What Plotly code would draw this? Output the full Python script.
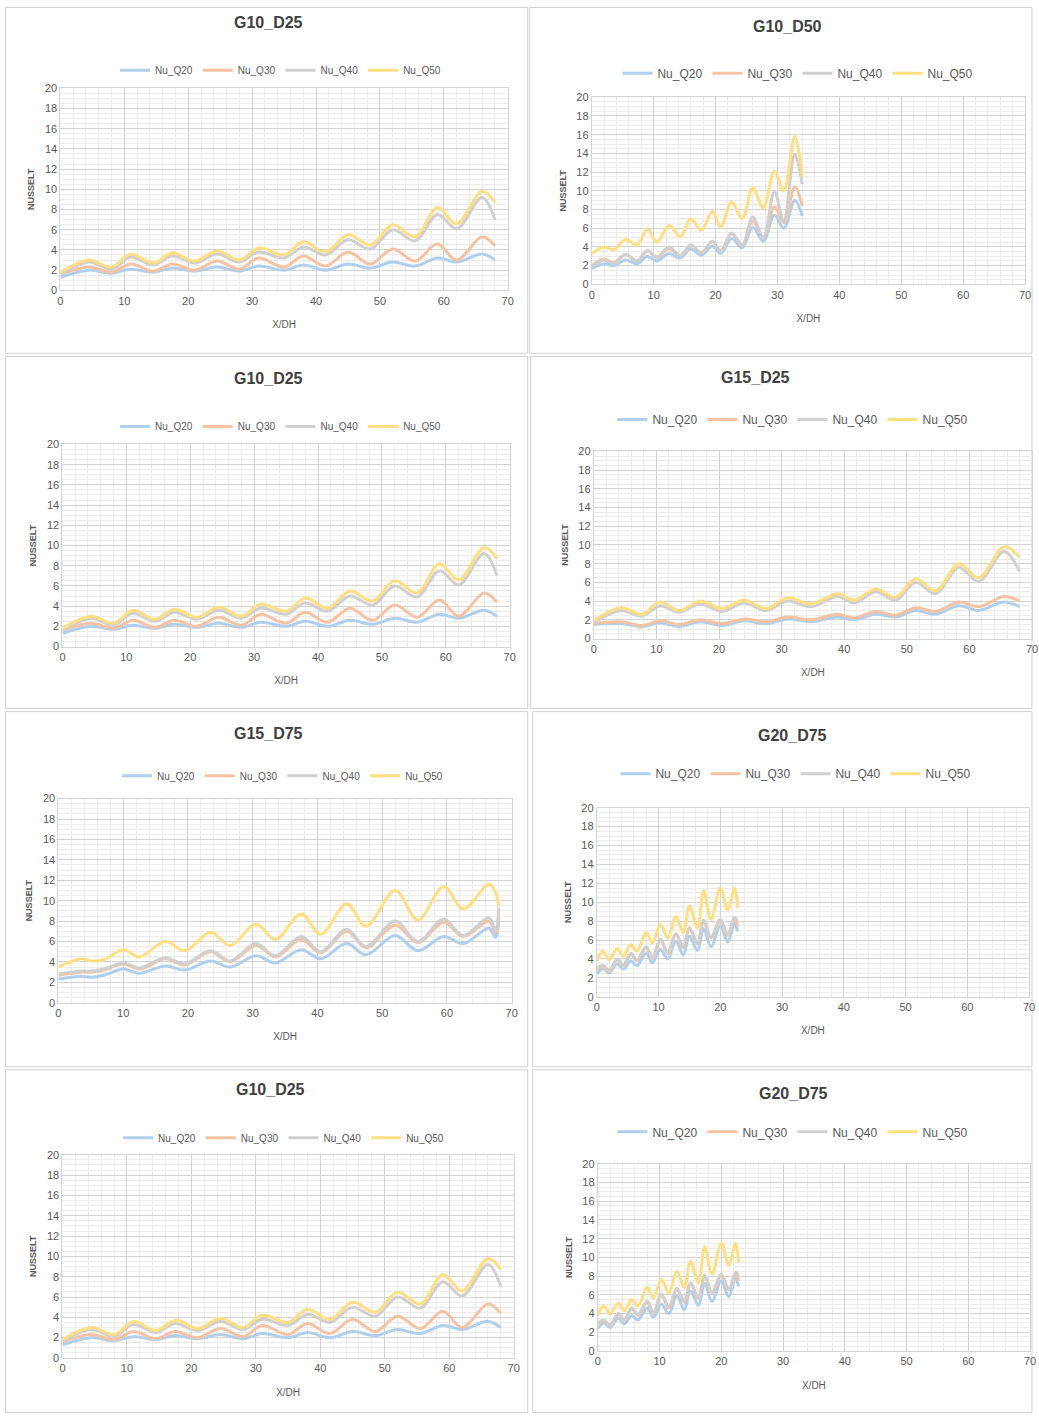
import plotly.graph_objects as go

# ---------------- data ----------------
SERIES = ["Nu_Q20", "Nu_Q30", "Nu_Q40", "Nu_Q50"]

G10_D25_X = [0, 4.5, 8, 11, 14.5, 17.5, 21, 24.5, 28, 31, 35, 38, 41.5, 45, 48.5, 52, 55.5, 59, 62, 66, 68]
G10_D25_Q20 = [1.3, 2.0, 1.7, 2.1, 1.8, 2.2, 1.9, 2.3, 1.9, 2.4, 2.0, 2.5, 2.0, 2.6, 2.2, 2.8, 2.4, 3.2, 2.8, 3.6, 3.0]
G10_D25_Q30 = [1.6, 2.3, 1.8, 2.6, 1.9, 2.6, 2.0, 2.9, 2.1, 3.2, 2.3, 3.4, 2.4, 3.8, 2.6, 4.1, 2.9, 4.6, 3.0, 5.3, 4.4]
G10_D25_Q40 = [1.6, 2.8, 2.1, 3.3, 2.5, 3.4, 2.7, 3.6, 2.8, 3.8, 3.2, 4.3, 3.5, 5.0, 4.1, 6.0, 4.9, 7.5, 6.1, 9.2, 7.0]
G10_D25_Q50 = [1.8, 3.0, 2.3, 3.6, 2.7, 3.7, 2.9, 3.9, 3.0, 4.2, 3.5, 4.8, 3.8, 5.5, 4.5, 6.5, 5.3, 8.2, 6.6, 9.8, 8.7]

G10_D50_X = [0, 2, 3.5, 5.5, 7.3, 9, 10.5, 12.5, 14.3, 16, 17.7, 19.5, 20.8, 22.6, 24.3, 26, 27.7, 29.5, 31, 32.8, 34]
G10_D50_Q20 = [1.7, 2.2, 2.0, 2.6, 2.2, 3.0, 2.5, 3.3, 2.8, 3.8, 3.1, 4.1, 3.3, 4.9, 3.9, 6.1, 4.6, 7.4, 6.0, 9.0, 7.3]
G10_D50_Q30 = [2.0, 2.7, 2.3, 3.2, 2.5, 3.6, 2.9, 3.8, 3.1, 4.2, 3.4, 4.6, 3.6, 5.4, 4.2, 6.8, 5.0, 8.3, 6.6, 10.4, 8.4]
G10_D50_Q40 = [1.9, 2.6, 2.2, 3.2, 2.5, 3.6, 2.9, 4.0, 3.0, 4.2, 3.3, 4.6, 3.5, 5.5, 4.2, 7.2, 5.0, 9.9, 6.8, 13.9, 10.7]
G10_D50_Q50 = [3.3, 4.0, 3.7, 4.8, 4.2, 5.9, 4.5, 6.3, 5.1, 7.0, 5.8, 7.8, 6.1, 8.8, 7.0, 10.3, 8.2, 12.1, 10.0, 15.8, 11.5]

G15_D25_X = [0, 4.3, 7.7, 10.6, 13.6, 17, 20.5, 24, 27.5, 31, 34.7, 38.9, 41.6, 45, 48.2, 51.4, 54.6, 58.3, 61.5, 65.5, 68]
G15_D25_Q20 = [1.5, 1.6, 1.3, 1.7, 1.3, 1.8, 1.4, 1.9, 1.6, 2.1, 1.8, 2.3, 2.0, 2.6, 2.3, 3.0, 2.6, 3.5, 3.0, 3.9, 3.4]
G15_D25_Q30 = [1.6, 1.8, 1.4, 1.9, 1.5, 2.0, 1.6, 2.1, 1.8, 2.3, 2.0, 2.6, 2.2, 2.9, 2.5, 3.3, 2.9, 3.9, 3.4, 4.5, 4.0]
G15_D25_Q40 = [1.7, 3.0, 2.4, 3.5, 2.8, 3.7, 2.9, 3.8, 3.0, 4.0, 3.4, 4.5, 3.8, 5.0, 4.1, 6.0, 4.8, 7.6, 6.1, 9.3, 7.2]
G15_D25_Q50 = [1.9, 3.3, 2.6, 3.9, 3.0, 4.0, 3.2, 4.1, 3.2, 4.35, 3.7, 4.8, 4.1, 5.3, 4.4, 6.4, 5.1, 8.0, 6.5, 9.8, 8.7]

G15_D75_X = [0, 3.5, 5, 7, 10, 12.5, 16.5, 19.5, 23.5, 26.5, 30.5, 33.5, 37.5, 40.5, 44.5, 47.5, 52, 55.5, 59.5, 62.5, 66.5, 67.5, 68]
G15_D75_Q20 = [2.3, 2.6, 2.5, 2.7, 3.3, 2.9, 3.6, 3.2, 4.1, 3.5, 4.6, 3.9, 5.2, 4.3, 5.8, 4.7, 6.6, 5.1, 6.5, 5.8, 7.3, 6.4, 8.0]
G15_D75_Q30 = [2.7, 3.0, 3.0, 3.2, 3.8, 3.3, 4.3, 3.7, 5.0, 4.0, 5.6, 4.5, 6.2, 4.9, 7.0, 5.4, 7.6, 5.9, 7.9, 6.5, 8.0, 6.8, 8.6]
G15_D75_Q40 = [2.8, 3.1, 3.1, 3.3, 3.9, 3.4, 4.4, 3.8, 5.1, 4.1, 5.8, 4.6, 6.5, 5.0, 7.2, 5.5, 8.0, 6.0, 8.2, 6.6, 8.3, 7.0, 9.3]
G15_D75_Q50 = [3.5, 4.3, 4.1, 4.2, 5.2, 4.5, 6.0, 5.1, 6.9, 5.6, 7.7, 6.2, 8.7, 6.7, 9.7, 7.5, 11.0, 8.1, 11.4, 9.2, 11.6, 10.8, 9.4]

G20_D75_X = [0, 1, 2, 3.3, 4.3, 5.5, 6.5, 8, 9, 10.3, 11.5, 12.8, 14, 15, 16.3, 17.3, 18.5, 20, 21.2, 22.3, 22.8]
G20_D75_Q20 = [2.4, 3.0, 2.5, 3.5, 2.9, 3.8, 3.3, 4.6, 3.6, 5.0, 4.0, 5.9, 4.4, 6.4, 4.9, 7.2, 5.3, 7.5, 5.8, 7.8, 6.9]
G20_D75_Q30 = [2.9, 3.2, 2.7, 3.9, 3.3, 4.5, 3.8, 5.2, 4.0, 6.0, 4.6, 6.6, 5.2, 7.2, 5.6, 8.0, 6.2, 8.1, 6.5, 8.3, 7.5]
G20_D75_Q40 = [3.0, 3.3, 2.8, 4.0, 3.4, 4.6, 3.9, 5.3, 4.1, 6.1, 4.7, 6.7, 5.3, 7.3, 5.7, 8.1, 6.3, 8.2, 6.6, 8.4, 8.0]
G20_D75_Q50 = [3.8, 4.8, 3.95, 5.1, 4.3, 5.5, 4.8, 6.8, 5.7, 7.65, 6.2, 8.5, 6.8, 9.6, 7.3, 11.2, 8.2, 11.5, 9.2, 11.5, 9.4]

DATASETS = {
    "G10_D25": (G10_D25_X, [G10_D25_Q20, G10_D25_Q30, G10_D25_Q40, G10_D25_Q50]),
    "G10_D50": (G10_D50_X, [G10_D50_Q20, G10_D50_Q30, G10_D50_Q40, G10_D50_Q50]),
    "G15_D25": (G15_D25_X, [G15_D25_Q20, G15_D25_Q30, G15_D25_Q40, G15_D25_Q50]),
    "G15_D75": (G15_D75_X, [G15_D75_Q20, G15_D75_Q30, G15_D75_Q40, G15_D75_Q50]),
    "G20_D75": (G20_D75_X, [G20_D75_Q20, G20_D75_Q30, G20_D75_Q40, G20_D75_Q50]),
}

PANEL_TITLES = ["G10_D25", "G10_D50", "G10_D25", "G15_D25", "G15_D75", "G20_D75", "G10_D25", "G20_D75"]

X_TICKS = [0, 10, 20, 30, 40, 50, 60, 70]
Y_TICKS = [0, 2, 4, 6, 8, 10, 12, 14, 16, 18, 20]

# ---------------- layout / style ----------------
W, H = 1039, 1420
COLORS = ["#b0cfec", "#f6c3a2", "#d0d0d0", "#ffdf80"]

# per panel (reference pixel positions): plot area (x_at_0, x_at_70, y_at_20, y_at_0),
# title center, legend center, legend font size, panel frame
PANELS = [
    dict(px=(60, 507, 88, 290), title=(268, 22), legend=(280, 70), lf=10, box=(5, 1, 527, 353)),
    dict(px=(591, 1024, 97, 284), title=(787, 26), legend=(797, 73), lf=12, box=(529, 1, 1038, 353)),
    dict(px=(62, 509, 444, 646), title=(268, 378), legend=(280, 426), lf=10, box=(5, 356, 527, 708)),
    dict(px=(593, 1031, 451, 638), title=(755, 377), legend=(792, 419), lf=12, box=(530, 356, 1038, 708)),
    dict(px=(58, 511, 798, 1002), title=(268, 733), legend=(282, 775), lf=10, box=(5, 711, 527, 1066)),
    dict(px=(596, 1028, 807, 996), title=(792, 735), legend=(795, 773), lf=12, box=(532, 711, 1038, 1066)),
    dict(px=(62, 513, 1154, 1357), title=(270, 1089), legend=(283, 1137), lf=10, box=(5, 1069, 527, 1419)),
    dict(px=(597, 1029, 1163, 1350), title=(793, 1093), legend=(792, 1131), lf=12, box=(532, 1069, 1038, 1419)),
]

# the photographed page is slightly rescaled; compensate so positions land where wanted
SX, OX = 0.9907, 2.6
SY, OY = 0.991, 5.8


def fx(px):
    return ((px - OX) / SX) / W


def fy(py):
    return 1 - ((py - OY) / SY) / H


FONT = "Liberation Sans"
TXT = "#595959"

fig = go.Figure()
layout = dict(
    width=W, height=H, margin=dict(l=0, r=0, t=0, b=0),
    paper_bgcolor="white", plot_bgcolor="white",
    font=dict(family=FONT, color=TXT, size=11),
    annotations=[], shapes=[],
)

for i, (title, p) in enumerate(zip(PANEL_TITLES, PANELS), start=1):
    xs, ys_list = DATASETS[title]
    sfx = "" if i == 1 else str(i)
    leg = "legend" if i == 1 else f"legend{i}"
    for name, ys, col in zip(SERIES, ys_list, COLORS):
        fig.add_trace(go.Scatter(
            x=xs, y=ys, name=name, mode="lines",
            line=dict(color=col, width=3, shape="spline", smoothing=1.0),
            xaxis=f"x{sfx}", yaxis=f"y{sfx}", legend=leg, showlegend=True,
            hoverinfo="skip",
        ))
    x0, x70, y20, y0 = p["px"]
    layout[f"xaxis{sfx}"] = dict(
        domain=[max(0, fx(x0)), min(1, fx(x70))], range=[0, 70], anchor=f"y{sfx}",
        tickvals=X_TICKS, showgrid=True, gridcolor="#d4d4d4", gridwidth=1,
        minor=dict(dtick=2, showgrid=True, gridcolor="#ececec", gridwidth=1),
        zeroline=False, showline=True, linecolor="#d4d4d4", mirror=True,
        ticks="", tickfont=dict(size=11, color=TXT),
        title=dict(text="X/DH", font=dict(size=10, color=TXT), standoff=15),
        fixedrange=True,
    )
    layout[f"yaxis{sfx}"] = dict(
        domain=[max(0, fy(y0)), min(1, fy(y20))], range=[0, 20], anchor=f"x{sfx}",
        tickvals=Y_TICKS, showgrid=True, gridcolor="#d4d4d4", gridwidth=1,
        minor=dict(dtick=0.5, showgrid=True, gridcolor="#ececec", gridwidth=1),
        zeroline=False, showline=True, linecolor="#d4d4d4", mirror=True,
        ticks="", tickfont=dict(size=11, color=TXT),
        title=dict(text="<b>NUSSELT</b>", font=dict(size=9, color=TXT), standoff=8),
        fixedrange=True,
    )
    lx, ly = p["legend"]
    layout[leg] = dict(
        orientation="h", x=fx(lx), y=fy(ly), xanchor="center", yanchor="middle",
        font=dict(size=p["lf"], color=TXT, family=FONT), bgcolor="rgba(0,0,0,0)",
        itemwidth=30, tracegroupgap=0,
    )
    tx, ty = p["title"]
    layout["annotations"].append(dict(
        text=f"<b>{title}</b>", x=fx(tx), y=fy(ty), xref="paper", yref="paper",
        xanchor="center", yanchor="middle", showarrow=False,
        font=dict(size=16, color="#404040", family=FONT),
    ))
    bx0, by0, bx1, by1 = p["box"]
    layout["shapes"].append(dict(
        type="rect", xref="paper", yref="paper",
        x0=max(0.001, fx(bx0)), x1=min(0.999, fx(bx1)),
        y0=max(0.001, fy(by1)), y1=min(0.999, fy(by0)),
        line=dict(color="#d0d0d0", width=1), fillcolor="rgba(0,0,0,0)", layer="below",
    ))

fig.update_layout(**layout)

# remove the default page margins so the figure sits at the window's top-left corner
POST_JS = (
    "document.documentElement.style.margin='0';document.documentElement.style.padding='0';"
    "document.body.style.margin='0';document.body.style.padding='0';"
    "document.body.style.overflow='hidden';"
)
fig.write_html("out.html", post_script=POST_JS, config={"displayModeBar": False})
